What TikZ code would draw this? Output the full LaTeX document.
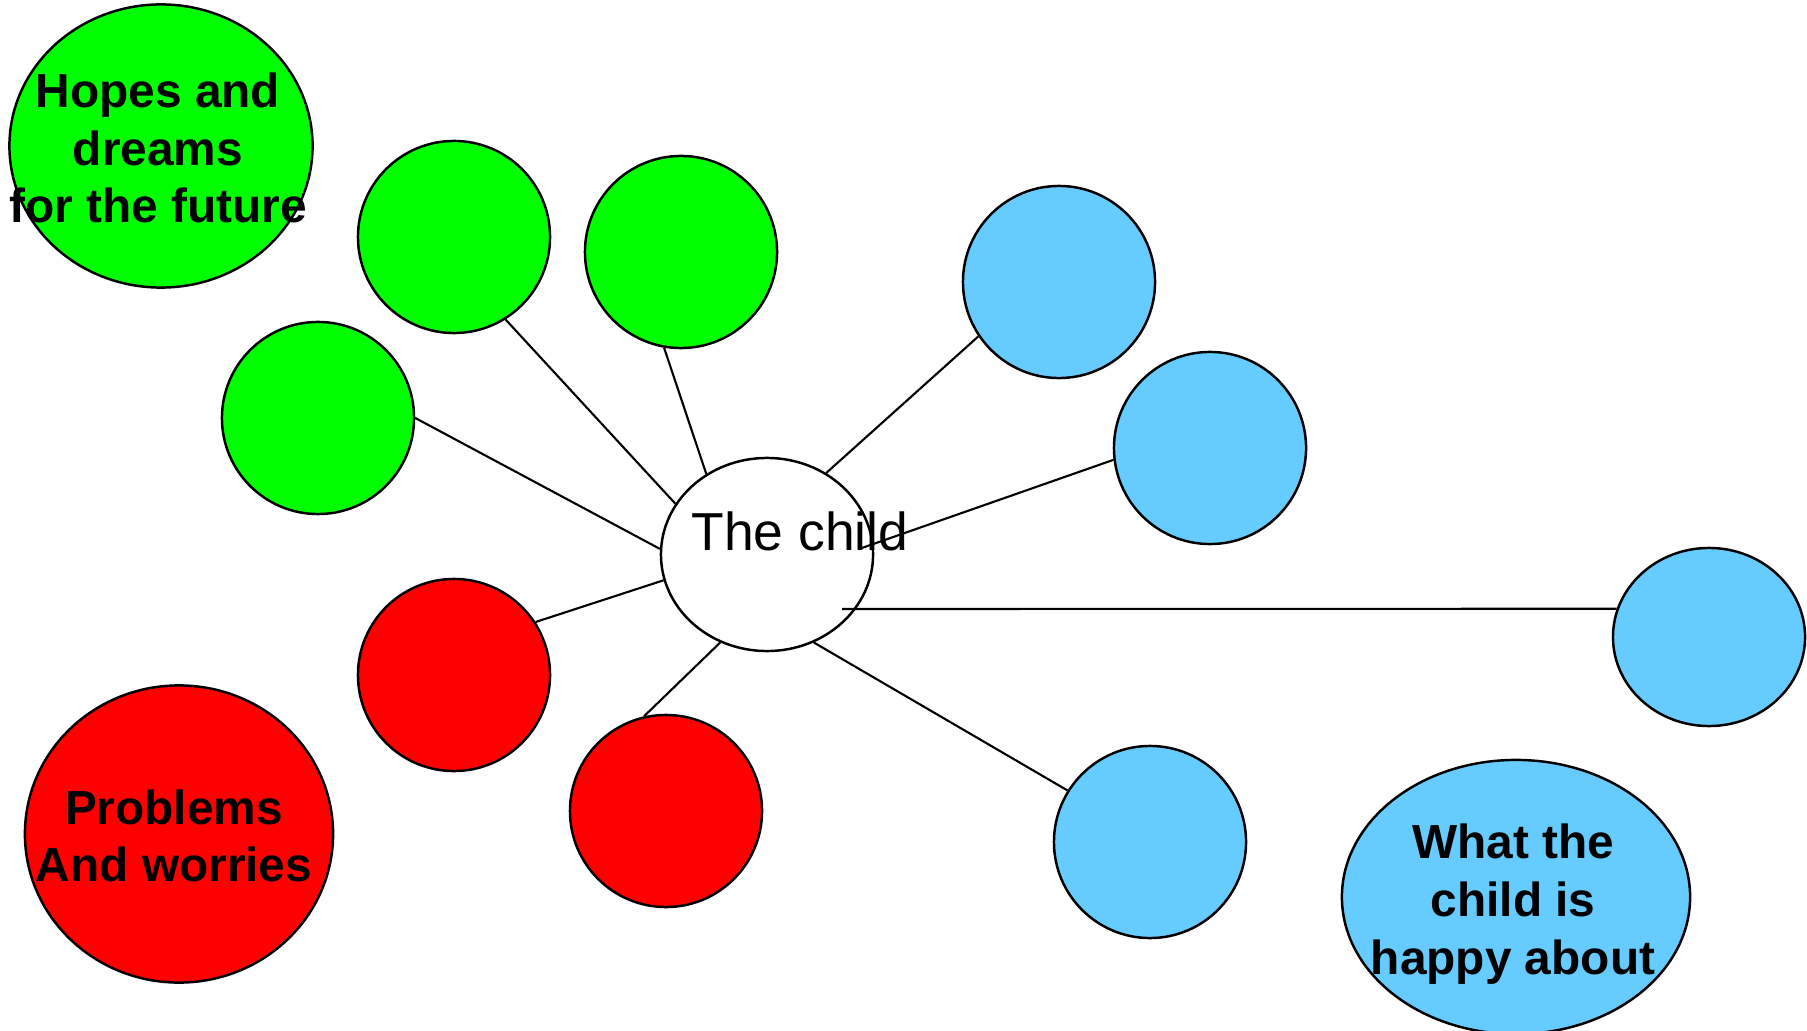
\documentclass[tikz,border=0pt]{standalone}
\usepackage{fontspec}
\setmainfont{Liberation Sans}
\usetikzlibrary{shapes.geometric,calc}
\definecolor{cgreen}{HTML}{00FF00}
\definecolor{cred}{HTML}{FF0000}
\definecolor{cblue}{HTML}{66CCFF}
\begin{document}
\begin{tikzpicture}[x=0.01cm,y=-0.01cm,
  bub/.style={circle,draw=black,line width=0.7pt,minimum size=1.92cm,inner sep=0pt},
  oval/.style={ellipse,draw=black,line width=0.7pt,inner sep=0pt},
  conn/.style={draw=black,line width=0.6pt},
  bigtxt/.style={align=center,inner sep=0pt,font=\fontsize{13.6}{16.4}\selectfont\bfseries}]
\useasboundingbox[fill=white] (0,0) rectangle (1807,1031);
% group ellipses
\node[oval,fill=cgreen,minimum width=3.03cm,minimum height=2.83cm] (hopes) at (161,146) {};
\node[oval,fill=cred,minimum width=3.08cm,minimum height=2.97cm] (problems) at (179,834) {};
\node[oval,fill=cblue,minimum width=3.48cm,minimum height=2.74cm] (happy) at (1516,897) {};
% bubbles
\node[bub,fill=cgreen] (g1) at (454,237) {};
\node[bub,fill=cgreen] (g2) at (681,252) {};
\node[bub,fill=cgreen] (g3) at (318,418) {};
\node[bub,fill=cblue] (b1) at (1059,282) {};
\node[bub,fill=cblue] (b2) at (1210,448) {};
\node[oval,fill=cblue,minimum width=1.92cm,minimum height=1.78cm] (b3) at (1709,637) {};
\node[bub,fill=cblue] (b4) at (1150,842) {};
\node[bub,fill=cred] (r1) at (454,675) {};
\node[bub,fill=cred] (r2) at (666,811) {};
% centre
\node[oval,fill=white,minimum width=2.12cm,minimum height=1.93cm] (child) at (767,554.5) {};
\node[inner sep=0pt,font=\fontsize{15.2}{17}\selectfont] (childtxt) at (800,531) {The child};
% texts
\node[bigtxt] (hopestxt) at (158,148) {Hopes and\\dreams\\for the future};
\node[bigtxt] (problemstxt) at (174,836) {Problems\\And worries};
\node[bigtxt] (happytxt) at (1513,904) {What the\\child is\\happy about};
% connectors
\coordinate (hs) at (842,609);
\draw[conn] (g1.-58) -- (child.151);
\draw[conn] (g2.-100) -- (child.127.5);
\draw[conn] (g3.0) -- (child.177);
\draw[conn] (b1.-146) -- (child.54);
\draw[conn] (b2.-173) -- ($(child.center)+(92,-5.5)$);
\draw[conn] (hs) -- (b3.163);
\draw[conn] (b4.148) -- (child.-62);
\draw[conn] (r1.33.7) -- (child.-166.6);
\draw[conn] (r2.103.7) -- (child.-118.7);
\end{tikzpicture}
\end{document}
